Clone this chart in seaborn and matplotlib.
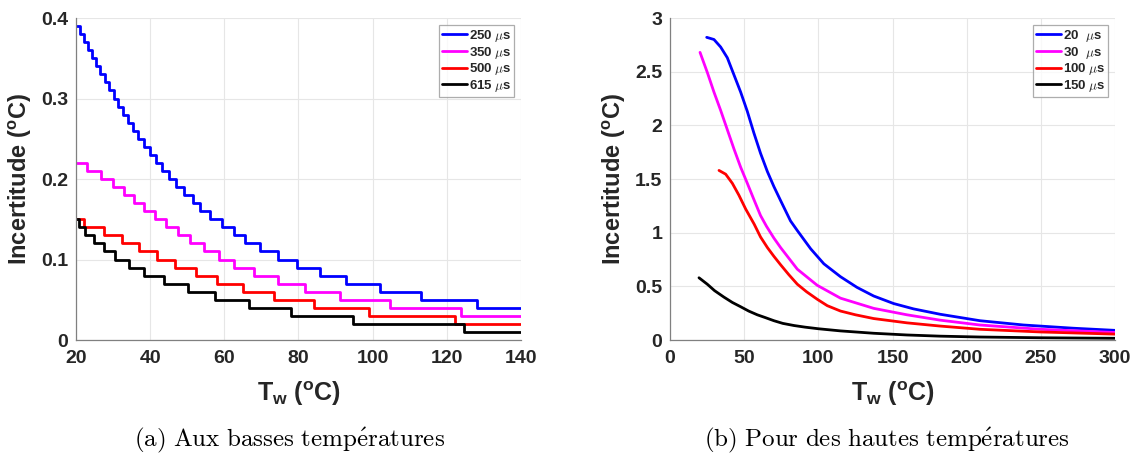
import numpy as np
import pandas as pd
import matplotlib
matplotlib.use('Agg')
import matplotlib.pyplot as plt
from matplotlib.font_manager import FontProperties
import seaborn as sns

# (a) low temperatures: step curves (uncertainty rounded to 0.01)
T_250 = [20, 21.1, 22.1, 23.1, 24.2, 25.4, 26.6, 27.7, 29.0, 30.2, 31.4, 32.6, 33.9, 35.3,
         36.8, 38.2, 40.0, 41.6, 43.2, 45.0, 47.0, 49.2, 51.5, 53.5, 56.2, 59.4, 62.5, 65.7,
         69.7, 74.4, 79.6, 85.7, 92.9, 101.9, 113.1, 128.1, 140]
U_250 = [0.39, 0.38, 0.37, 0.36, 0.35, 0.34, 0.33, 0.32, 0.31, 0.30, 0.29, 0.28, 0.27, 0.26,
         0.25, 0.24, 0.23, 0.22, 0.21, 0.20, 0.19, 0.18, 0.17, 0.16, 0.15, 0.14, 0.13, 0.12,
         0.11, 0.10, 0.09, 0.08, 0.07, 0.06, 0.05, 0.04, 0.04]

T_350 = [20, 23.0, 26.7, 29.9, 32.9, 35.7, 38.2, 41.4, 44.4, 47.4, 50.7, 54.4, 58.5, 62.7,
         68.1, 74.4, 81.8, 91.3, 104.6, 123.9, 140]
U_350 = [0.22, 0.21, 0.20, 0.19, 0.18, 0.17, 0.16, 0.15, 0.14, 0.13, 0.12, 0.11, 0.10, 0.09,
         0.08, 0.07, 0.06, 0.05, 0.04, 0.03, 0.03]

T_500 = [20, 22.1, 27.5, 32.4, 37.1, 41.8, 46.8, 52.4, 58.0, 65.0, 73.3, 84.3, 98.9, 122.1, 140]
U_500 = [0.15, 0.14, 0.13, 0.12, 0.11, 0.10, 0.09, 0.08, 0.07, 0.06, 0.05, 0.04, 0.03, 0.02, 0.02]

T_615 = [20, 20.7, 22.5, 24.8, 27.5, 30.6, 34.2, 38.4, 43.8, 50.1, 57.6, 66.7, 78.1, 94.7, 124.5, 140]
U_615 = [0.15, 0.14, 0.13, 0.12, 0.11, 0.10, 0.09, 0.08, 0.07, 0.06, 0.05, 0.04, 0.03, 0.02, 0.01, 0.01]

# (b) high temperatures
T_20 = [24.7, 29.6, 34.1, 38.6, 43.1, 47.6, 52.1, 56.5, 61.0, 65.6, 70.0, 74.5, 81.2, 85.8,
        94.8, 103.7, 114.9, 126.1, 137.3, 150.7, 164.2, 182.1, 208.9, 238.3, 271.9, 300]
U_20 = [2.82, 2.80, 2.73, 2.63, 2.47, 2.31, 2.13, 1.93, 1.74, 1.57, 1.43, 1.30, 1.11, 1.02,
        0.85, 0.71, 0.59, 0.49, 0.41, 0.34, 0.29, 0.24, 0.18, 0.14, 0.11, 0.09]

T_30 = [20.2, 25.2, 29.6, 34.1, 38.6, 43.1, 47.6, 52.1, 56.5, 61.0, 65.0, 70.0, 74.6, 85.8,
        99.2, 114.9, 137.3, 159.7, 182.1, 208.9, 249.5, 300]
U_30 = [2.68, 2.49, 2.31, 2.14, 1.96, 1.78, 1.61, 1.46, 1.31, 1.16, 1.06, 0.95, 0.86, 0.66,
        0.51, 0.39, 0.295, 0.235, 0.185, 0.14, 0.10, 0.07]

T_100 = [33.0, 37.5, 42.0, 46.4, 51.0, 56.7, 61.0, 65.7, 70.0, 74.6, 80.0, 85.8, 92.0, 99.2,
         106.0, 114.9, 125.0, 137.3, 159.7, 182.1, 208.9, 250.0, 300]
U_100 = [1.58, 1.545, 1.46, 1.35, 1.22, 1.08, 0.96, 0.86, 0.78, 0.70, 0.61, 0.52, 0.45, 0.38,
         0.32, 0.27, 0.235, 0.20, 0.16, 0.13, 0.10, 0.075, 0.055]

T_150 = [19.5, 25.1, 30.0, 36.3, 42.0, 47.6, 53.0, 58.8, 64.0, 70.0, 76.0, 83.6, 91.0, 100.0,
         114.9, 137.3, 159.7, 182.1, 208.9, 250.0, 300]
U_150 = [0.58, 0.52, 0.46, 0.40, 0.35, 0.31, 0.27, 0.235, 0.21, 0.18, 0.155, 0.135, 0.12, 0.105,
         0.085, 0.063, 0.047, 0.036, 0.028, 0.021, 0.016]

colors = ['#0000FF', '#FF00FF', '#FF0000', '#000000']
labels_a = [r'250 $\mu$s', r'350 $\mu$s', r'500 $\mu$s', r'615 $\mu$s']
labels_b = [r'20  $\mu$s', r'30  $\mu$s', r'100 $\mu$s', r'150 $\mu$s']

sns.set_style('whitegrid')
plt.rcParams['font.family'] = ['Liberation Sans', 'DejaVu Sans']
plt.rcParams['mathtext.fontset'] = 'custom'
plt.rcParams['mathtext.rm'] = 'Liberation Sans:bold'
plt.rcParams['mathtext.bf'] = 'Liberation Sans:bold'
plt.rcParams['mathtext.it'] = 'Liberation Sans:bold:italic'

fig = plt.figure(figsize=(11.38, 4.55), dpi=100)
ax1 = fig.add_axes([0.0668, 0.2527, 0.391, 0.7077])
ax2 = fig.add_axes([0.5888, 0.2527, 0.391, 0.7077])

series_a = [(T_250, U_250), (T_350, U_350), (T_500, U_500), (T_615, U_615)]
for (t, u), c, lab in zip(series_a, colors, labels_a):
    sns.lineplot(x=t, y=u, ax=ax1, color=c, lw=2, drawstyle='steps-post',
                 estimator=None, sort=False, label=lab)

series_b = [(T_20, U_20), (T_30, U_30), (T_100, U_100), (T_150, U_150)]
for (t, u), c, lab in zip(series_b, colors, labels_b):
    sns.lineplot(x=t, y=u, ax=ax2, color=c, lw=2, estimator=None, sort=False, label=lab)

tick_col = '#262626'
leg_font = FontProperties(family='Liberation Sans', weight='bold', size=9.5, math_fontfamily='cm')

def style(ax, xlim, ylim, xticks, yticks):
    ax.set_xlim(*xlim)
    ax.set_ylim(*ylim)
    ax.set_xticks(xticks)
    ax.set_yticks(yticks)
    ax.set_xticklabels(['%g' % v for v in xticks])
    ax.set_yticklabels(['%g' % v for v in yticks])
    ax.grid(True, color='#e6e6e6', lw=0.8)
    for s in ['top', 'right']:
        ax.spines[s].set_visible(False)
    for s in ['left', 'bottom']:
        ax.spines[s].set_color('#808080')
        ax.spines[s].set_linewidth(0.9)
    ax.tick_params(axis='both', labelsize=14, colors=tick_col, direction='in',
                   length=3, width=0.8)
    ax.tick_params(axis='x', pad=7)
    ax.tick_params(axis='y', pad=5.5)
    for lab in ax.get_xticklabels() + ax.get_yticklabels():
        lab.set_fontweight('bold')
        lab.set_color(tick_col)
    ax.set_xlabel(r'$\mathbf{T_w}$ ($^{\mathbf{o}}$C)', fontsize=18, fontweight='bold',
                  color=tick_col, labelpad=9)
    ax.set_ylabel(r'Incertitude ($^{\mathbf{o}}$C)', fontsize=17, fontweight='bold',
                  color=tick_col, labelpad=5)
    leg = ax.legend(loc='upper right', prop=leg_font, frameon=True, fancybox=False,
                    handlelength=1.9, handletextpad=0.1, labelspacing=0.05,
                    borderpad=0.25, borderaxespad=0.5)
    leg.get_frame().set_edgecolor('#999999')
    leg.get_frame().set_linewidth(0.9)
    for line in leg.get_lines():
        line.set_linewidth(2)

style(ax1, (20, 140), (0, 0.4), [20, 40, 60, 80, 100, 120, 140], [0, 0.1, 0.2, 0.3, 0.4])
style(ax2, (0, 300), (0, 3), [0, 50, 100, 150, 200, 250, 300], [0, 0.5, 1, 1.5, 2, 2.5, 3])

fig.text(0.2544, 0.033, r'$\mathrm{(a)\ Aux\ basses\ temp\acute{e}ratures}$', ha='center',
         va='center', fontsize=18, math_fontfamily='cm', color='black')
fig.text(0.779, 0.033, r'$\mathrm{(b)\ Pour\ des\ hautes\ temp\acute{e}ratures}$', ha='center',
         va='center', fontsize=18, math_fontfamily='cm', color='black')

fig.savefig('out.png', dpi=100)
